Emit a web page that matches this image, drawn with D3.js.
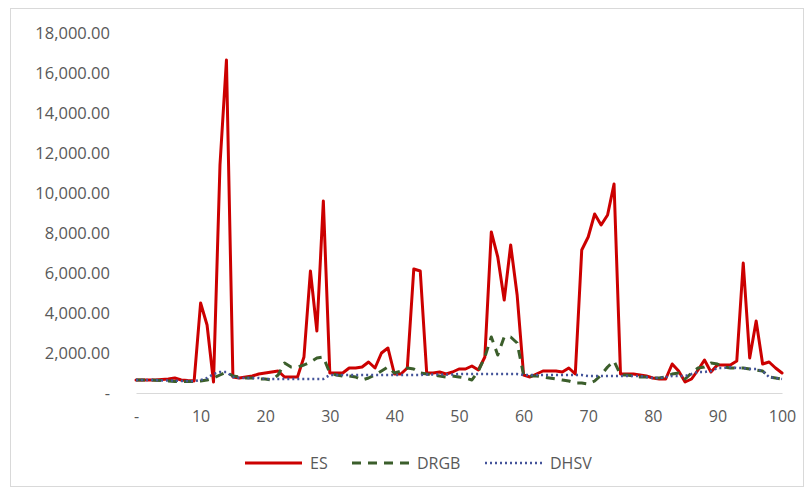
<!DOCTYPE html>
<html><head><meta charset="utf-8">
<script src="https://cdn.jsdelivr.net/npm/d3@7/dist/d3.min.js"></script>
<style>body{margin:0;background:#fff}svg{display:block}</style>
</head><body><svg id="c" width="810" height="493"></svg>
<script>
const xValues = d3.range(0, 101);
const ES = [650,650,650,650,680,700,750,650,620,600,
4500,3400,550,11400,16650,800,750,800,850,950,
1000,1050,1100,800,800,800,1800,6100,3100,9600,
1000,1000,1000,1250,1250,1300,1550,1250,2000,2250,
950,950,1250,6200,6100,1000,1000,1050,950,1050,
1200,1200,1350,1150,1800,8050,6800,4650,7400,4900,
900,800,950,1100,1100,1100,1050,1250,950,7150,
7800,8950,8400,8900,10450,950,950,950,900,850,
750,700,700,1450,1100,550,700,1150,1650,1050,
1400,1400,1400,1600,6500,1750,3600,1450,1550,1250,1000];
const DRGB = [650,650,650,640,620,600,580,570,570,570,
600,650,750,900,1050,850,800,750,750,700,
700,650,900,1500,1300,1300,1400,1550,1750,1800,
1000,900,850,850,800,650,750,900,1100,1300,
1000,1100,1250,1200,1000,950,900,850,800,850,
800,750,650,1100,1800,2800,1900,2800,2800,2500,
900,850,850,800,750,700,650,600,500,500,
450,600,900,1300,1600,900,900,850,800,800,
750,750,800,950,1000,700,1000,1250,1300,1500,
1450,1300,1250,1250,1250,1200,1150,1100,800,750,700];
const DHSV = [650,650,650,650,630,620,620,600,600,600,
650,750,950,1050,1050,800,750,750,750,750,
700,700,700,700,700,700,700,700,700,700,
900,900,900,900,900,900,900,900,900,900,
900,900,900,900,900,920,920,920,920,920,
950,950,950,950,950,950,950,950,950,950,
900,900,900,900,900,900,900,900,900,900,
850,850,850,850,850,850,850,850,850,800,
750,750,800,850,850,850,950,1050,1050,1100,
1250,1250,1300,1250,1250,1200,1200,1100,800,750,700];
const seriesNames = ["ES","DRGB","DHSV"];
const yTicks = [0,2000,4000,6000,8000,10000,12000,14000,16000,18000];
const xTicks = [0,10,20,30,40,50,60,70,80,90,100];

const svg = d3.select("#c");
const font = "'Open Sans', sans-serif";
svg.append("rect").attr("x",10.5).attr("y",8.5).attr("width",793).attr("height",478)
  .attr("fill","#fff").attr("stroke","#d9d9d9").attr("stroke-width",1);

const x = d3.scaleLinear().domain([0,100]).range([136,782]);
const y = d3.scaleLinear().domain([0,18000]).range([393,33]);
const fmt = v => v === 0 ? "-" : d3.format(",.2f")(v);

const yAxis = svg.append("g").attr("transform","translate(110,0)")
  .call(d3.axisLeft(y).tickValues(yTicks).tickFormat(fmt).tickSize(0).tickPadding(0));
yAxis.select(".domain").remove();
yAxis.selectAll("text").attr("fill","#595959").style("font-family",font).style("font-size","16.5px");

const xAxis = svg.append("g").attr("transform","translate(0,393)")
  .call(d3.axisBottom(x).tickValues(xTicks).tickFormat(v => v===0?"-":String(v)).tickSize(0).tickPadding(18));
xAxis.select(".domain").attr("stroke","#d9d9d9").attr("stroke-width",1);
xAxis.selectAll("text").attr("fill","#595959").style("font-family",font).style("font-size","16px");

const styles = {
  ES:{color:"#cc0000", dash:null, width:3, cap:"round"},
  DRGB:{color:"#3b5e2b", dash:"9,7", width:3, cap:"butt"},
  DHSV:{color:"#44549a", dash:"2,3", width:2.5, cap:"butt"}
};
const data = {ES, DRGB, DHSV};
const line = d3.line().x((d,i)=>x(xValues[i])).y(d=>y(d));
seriesNames.forEach(n=>{
  const s = styles[n];
  svg.append("path").datum(data[n]).attr("d",line).attr("fill","none")
    .attr("stroke",s.color).attr("stroke-width",s.width)
    .attr("stroke-dasharray",s.dash).attr("stroke-linejoin","round").attr("stroke-linecap",s.cap);
});

const legX = [245,352,485];
const lg = svg.append("g");
seriesNames.forEach((n,i)=>{
  const s = styles[n];
  lg.append("line").attr("x1",legX[i]).attr("x2",legX[i]+57).attr("y1",463).attr("y2",463)
    .attr("stroke",s.color).attr("stroke-width",s.width).attr("stroke-dasharray",s.dash);
  lg.append("text").attr("x",legX[i]+65).attr("y",463).attr("dy","0.35em")
    .attr("fill","#595959").style("font-family",font).style("font-size","16px").text(n);
});
</script></body></html>
